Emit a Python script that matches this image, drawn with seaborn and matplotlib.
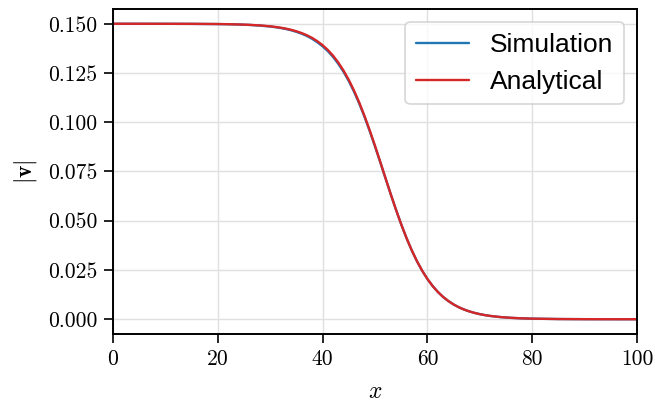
import numpy as np
import pandas as pd
import matplotlib
matplotlib.use("Agg")
import matplotlib.pyplot as plt
import seaborn as sns

# ==========================================
# DATA
# ==========================================

x_vals = [0, 5, 10, 15, 20, 22, 24, 26, 28, 30, 31, 32, 33, 34, 35, 36, 37,
          38, 39, 40, 41, 42, 43, 44, 45, 46, 47, 48, 49, 50, 51, 52, 53,
          54, 55, 56, 57, 58, 59, 60, 61, 62, 63, 64, 65, 66, 67, 68, 69,
          70, 71, 72, 74, 76, 78, 80, 85, 90, 95, 100]

analytical = [0.15000, 0.14999, 0.14998, 0.14995, 0.14986, 0.14978, 0.14965,
              0.14946, 0.14917, 0.14871, 0.14839, 0.14801, 0.14753, 0.14693,
              0.14619, 0.14529, 0.14418, 0.14282, 0.14115, 0.13913, 0.13670,
              0.13379, 0.13031, 0.12624, 0.12152, 0.11609, 0.10998, 0.10321,
              0.09587, 0.08806, 0.07994, 0.07171, 0.06355, 0.05568, 0.04821,
              0.04132, 0.03507, 0.02951, 0.02465, 0.02045, 0.01687, 0.01384,
              0.01132, 0.00923, 0.00750, 0.00608, 0.00492, 0.00397, 0.00321,
              0.00258, 0.00208, 0.00167, 0.00108, 0.00070, 0.00045, 0.00029,
              0.00010, 0.00003, 0.00001, 0.00000]

simulation = [0.15000, 0.14999, 0.14998, 0.14995, 0.14985, 0.14976, 0.14962,
              0.14941, 0.14909, 0.14860, 0.14827, 0.14785, 0.14735, 0.14670,
              0.14590, 0.14495, 0.14380, 0.14235, 0.14060, 0.13855, 0.13610,
              0.13315, 0.12965, 0.12560, 0.12090, 0.11550, 0.10945, 0.10275,
              0.09545, 0.08775, 0.07975, 0.07160, 0.06350, 0.05565, 0.04820,
              0.04132, 0.03507, 0.02951, 0.02465, 0.02045, 0.01687, 0.01384,
              0.01132, 0.00923, 0.00750, 0.00608, 0.00492, 0.00397, 0.00321,
              0.00258, 0.00208, 0.00167, 0.00108, 0.00070, 0.00045, 0.00029,
              0.00010, 0.00003, 0.00001, 0.00000]

y_ticks = [0.000, 0.025, 0.050, 0.075, 0.100, 0.125, 0.150]
x_ticks = [0, 20, 40, 60, 80, 100]

df = pd.DataFrame({
    "x": x_vals * 2,
    "v": simulation + analytical,
    "series": ["Simulation"] * len(x_vals) + ["Analytical"] * len(x_vals),
})

# ==========================================
# STYLE
# ==========================================

sns.set_style("ticks")
plt.rcParams["font.family"] = ["cmr10", "DejaVu Serif"]
plt.rcParams["mathtext.fontset"] = "cm"
plt.rcParams["axes.formatter.use_mathtext"] = True
plt.rcParams["text.color"] = "black"
plt.rcParams["axes.labelcolor"] = "black"

# ==========================================
# PLOT
# ==========================================

fig = plt.figure(figsize=(6.55, 4.05), dpi=100)
ax = fig.add_axes([0.1725, 0.1753, 0.8, 0.8025])

sns.lineplot(
    data=df, x="x", y="v", hue="series",
    palette={"Simulation": "#1f77b4", "Analytical": "#d62728"},
    linewidth=1.7, ax=ax,
)

ax.set_xlim(0, 100)
ax.set_xticks(x_ticks)
ax.set_yticks(y_ticks)
ax.set_yticklabels([f"{t:.3f}" for t in y_ticks])
ax.set_xticklabels([str(t) for t in x_ticks])

ax.grid(True, color="#e0e0e0", linewidth=1.0)
ax.set_axisbelow(True)

for s in ax.spines.values():
    s.set_color("black")
    s.set_linewidth(1.4)

ax.tick_params(axis="both", direction="out", length=6.5, width=1.2,
               labelsize=15.5, colors="black", pad=5)

ax.set_xlabel("$x$", fontsize=17, labelpad=8)
ax.set_ylabel(r"$|\mathbf{v}|$", fontsize=17, labelpad=6)

leg = ax.legend(
    loc="upper right",
    prop={"family": "Liberation Sans", "size": 19},
    frameon=True, fancybox=True, framealpha=0.8,
)
leg.get_frame().set_edgecolor("#cccccc")
leg.get_frame().set_linewidth(1.2)
for t in leg.get_texts():
    t.set_color("black")

plt.savefig("out.png", dpi=100)
